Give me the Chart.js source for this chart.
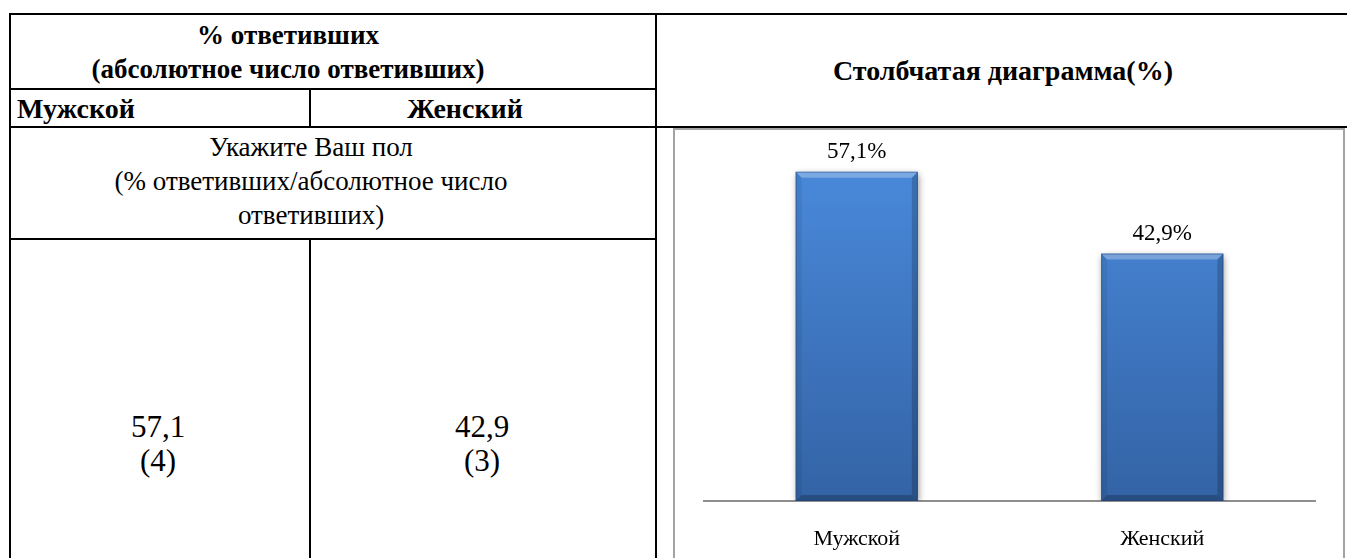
<!DOCTYPE html>
<html lang="ru">
<head>
<meta charset="utf-8">
<script src="https://cdn.jsdelivr.net/npm/chart.js@4/dist/chart.umd.min.js"></script>
<style>
  html, body { margin: 0; padding: 0; background: #fff; }
  body { width: 1347px; height: 558px; position: relative; overflow: hidden;
         font-family: "Liberation Serif", "Times New Roman", serif; color: #000; }
  .ln { position: absolute; background: #000; }
  .t { position: absolute; width: 700px; text-align: center; white-space: nowrap;
       font-size: 27px; line-height: 34px; }
  .b { font-weight: bold; }
  .n { font-size: 31px; }
  .m { font-size: 28px; }
  #box { position: absolute; left: 673px; top: 128px; width: 672px; height: 500px;
         box-sizing: border-box; border: 2px solid #a3a3a3; }
  #cv { position: absolute; left: 675px; top: 130px; }
</style>
</head>
<body>
<!-- table grid lines -->
<div class="ln" style="left:9px;top:13px;width:1338px;height:2px"></div>
<div class="ln" style="left:9px;top:13px;width:2px;height:545px"></div>
<div class="ln" style="left:9px;top:88px;width:648px;height:2px"></div>
<div class="ln" style="left:9px;top:126px;width:1338px;height:2px"></div>
<div class="ln" style="left:9px;top:238px;width:648px;height:2px"></div>
<div class="ln" style="left:309px;top:88px;width:2px;height:40px"></div>
<div class="ln" style="left:309px;top:238px;width:2px;height:320px"></div>
<div class="ln" style="left:655px;top:13px;width:2px;height:545px"></div>

<!-- header texts -->
<div class="t b" style="left:-62px;top:18px">% ответивших</div>
<div class="t b" style="left:-62px;top:52px">(абсолютное число ответивших)</div>
<div class="t b m" id="h0" style="left:17px;top:92px;text-align:left"></div>
<div class="t b m" id="h1" style="left:115px;top:92px"></div>
<div class="t b m" style="left:653px;top:54px">Столбчатая диаграмма(%)</div>

<div class="t" style="left:-39px;top:130px">Укажите Ваш пол</div>
<div class="t" style="left:-39px;top:164px">(% ответивших/абсолютное число</div>
<div class="t" style="left:-39px;top:198px">ответивших)</div>

<div class="t n" id="v0" style="left:-192px;top:410px"></div>
<div class="t n" id="c0" style="left:-192px;top:444px"></div>
<div class="t n" id="v1" style="left:132px;top:410px"></div>
<div class="t n" id="c1" style="left:132px;top:444px"></div>

<div id="box"></div>
<canvas id="cv" width="668" height="428"></canvas>

<script>
// ---- data ----
const categories = ['Мужской', 'Женский'];
const percentValues = [57.1, 42.9];
const absoluteCounts = [4, 3];
const yAxisRange = [0, 60];

const fmt = v => v.toFixed(1).replace('.', ',');

// table cells filled from the data arrays
categories.forEach((c, i) => {
  document.getElementById('h' + i).textContent = c;
  document.getElementById('v' + i).textContent = fmt(percentValues[i]);
  document.getElementById('c' + i).textContent = '(' + absoluteCounts[i] + ')';
});

const FONT = '"Liberation Serif", "Times New Roman", serif';

const barStyle = {
  id: 'barStyle',
  beforeDatasetDraw(chart) {
    const ctx = chart.ctx;
    ctx.save();
    ctx.shadowColor = 'rgba(0,0,0,0.45)';
    ctx.shadowBlur = 7;
    ctx.shadowOffsetX = 1;
    ctx.shadowOffsetY = 2;
  },
  afterDatasetDraw(chart, args) {
    const ctx = chart.ctx;
    ctx.restore();
    const meta = chart.getDatasetMeta(args.index);
    meta.data.forEach(el => {
      const l = el.x - el.width / 2, r = el.x + el.width / 2;
      const t = el.y, b = el.base, d = 6;
      const poly = (pts, fill) => {
        ctx.beginPath();
        ctx.moveTo(pts[0][0], pts[0][1]);
        for (let k = 1; k < pts.length; k++) ctx.lineTo(pts[k][0], pts[k][1]);
        ctx.closePath();
        ctx.fillStyle = fill;
        ctx.fill();
      };
      ctx.save();
      poly([[l, t], [r, t], [r - d, t + d], [l + d, t + d]], 'rgba(255,255,255,0.28)');
      poly([[l, t], [l + d, t + d], [l + d, b - d], [l, b]], 'rgba(0,0,0,0.07)');
      poly([[r, t], [r - d, t + d], [r - d, b - d], [r, b]], 'rgba(0,0,0,0.18)');
      poly([[l, b], [r, b], [r - d, b - d], [l + d, b - d]], 'rgba(0,0,0,0.22)');
      ctx.strokeStyle = 'rgba(30,60,110,0.45)';
      ctx.lineWidth = 1;
      ctx.strokeRect(l + 0.5, t + 0.5, r - l - 1, b - t - 1);
      ctx.restore();
    });
  }
};

const valueLabels = {
  id: 'valueLabels',
  afterDatasetsDraw(chart) {
    const ctx = chart.ctx;
    ctx.save();
    ctx.font = '23px ' + FONT;
    ctx.fillStyle = '#000';
    ctx.textAlign = 'center';
    ctx.textBaseline = 'alphabetic';
    chart.getDatasetMeta(0).data.forEach((el, i) => {
      ctx.fillText(fmt(percentValues[i]) + '%', el.x, el.y - 14);
    });
    ctx.restore();
  }
};

new Chart(document.getElementById('cv'), {
  type: 'bar',
  data: {
    labels: categories,
    datasets: [{
      data: percentValues,
      backgroundColor(c) {
        const ca = c.chart.chartArea;
        if (!ca) return '#3f7bc8';
        const g = c.chart.ctx.createLinearGradient(0, ca.top, 0, ca.bottom);
        g.addColorStop(0, '#4a8adc');
        g.addColorStop(1, '#3363a5');
        return g;
      },
      borderWidth: 0,
      categoryPercentage: 0.8,
      barPercentage: 0.5
    }]
  },
  options: {
    responsive: false,
    animation: false,
    devicePixelRatio: 1,
    layout: { padding: { left: 29, right: 28, top: 25, bottom: 0 } },
    plugins: { legend: { display: false }, tooltip: { enabled: false } },
    scales: {
      x: {
        grid: { display: false, drawTicks: false },
        border: { display: true, color: '#8e8e8e', width: 2 },
        ticks: { color: '#000', padding: 25, font: { family: FONT, size: 22 } },
        afterFit(s) { s.height = 57; }
      },
      y: { display: false, min: yAxisRange[0], max: yAxisRange[1] }
    }
  },
  plugins: [barStyle, valueLabels]
});
</script>
</body>
</html>
